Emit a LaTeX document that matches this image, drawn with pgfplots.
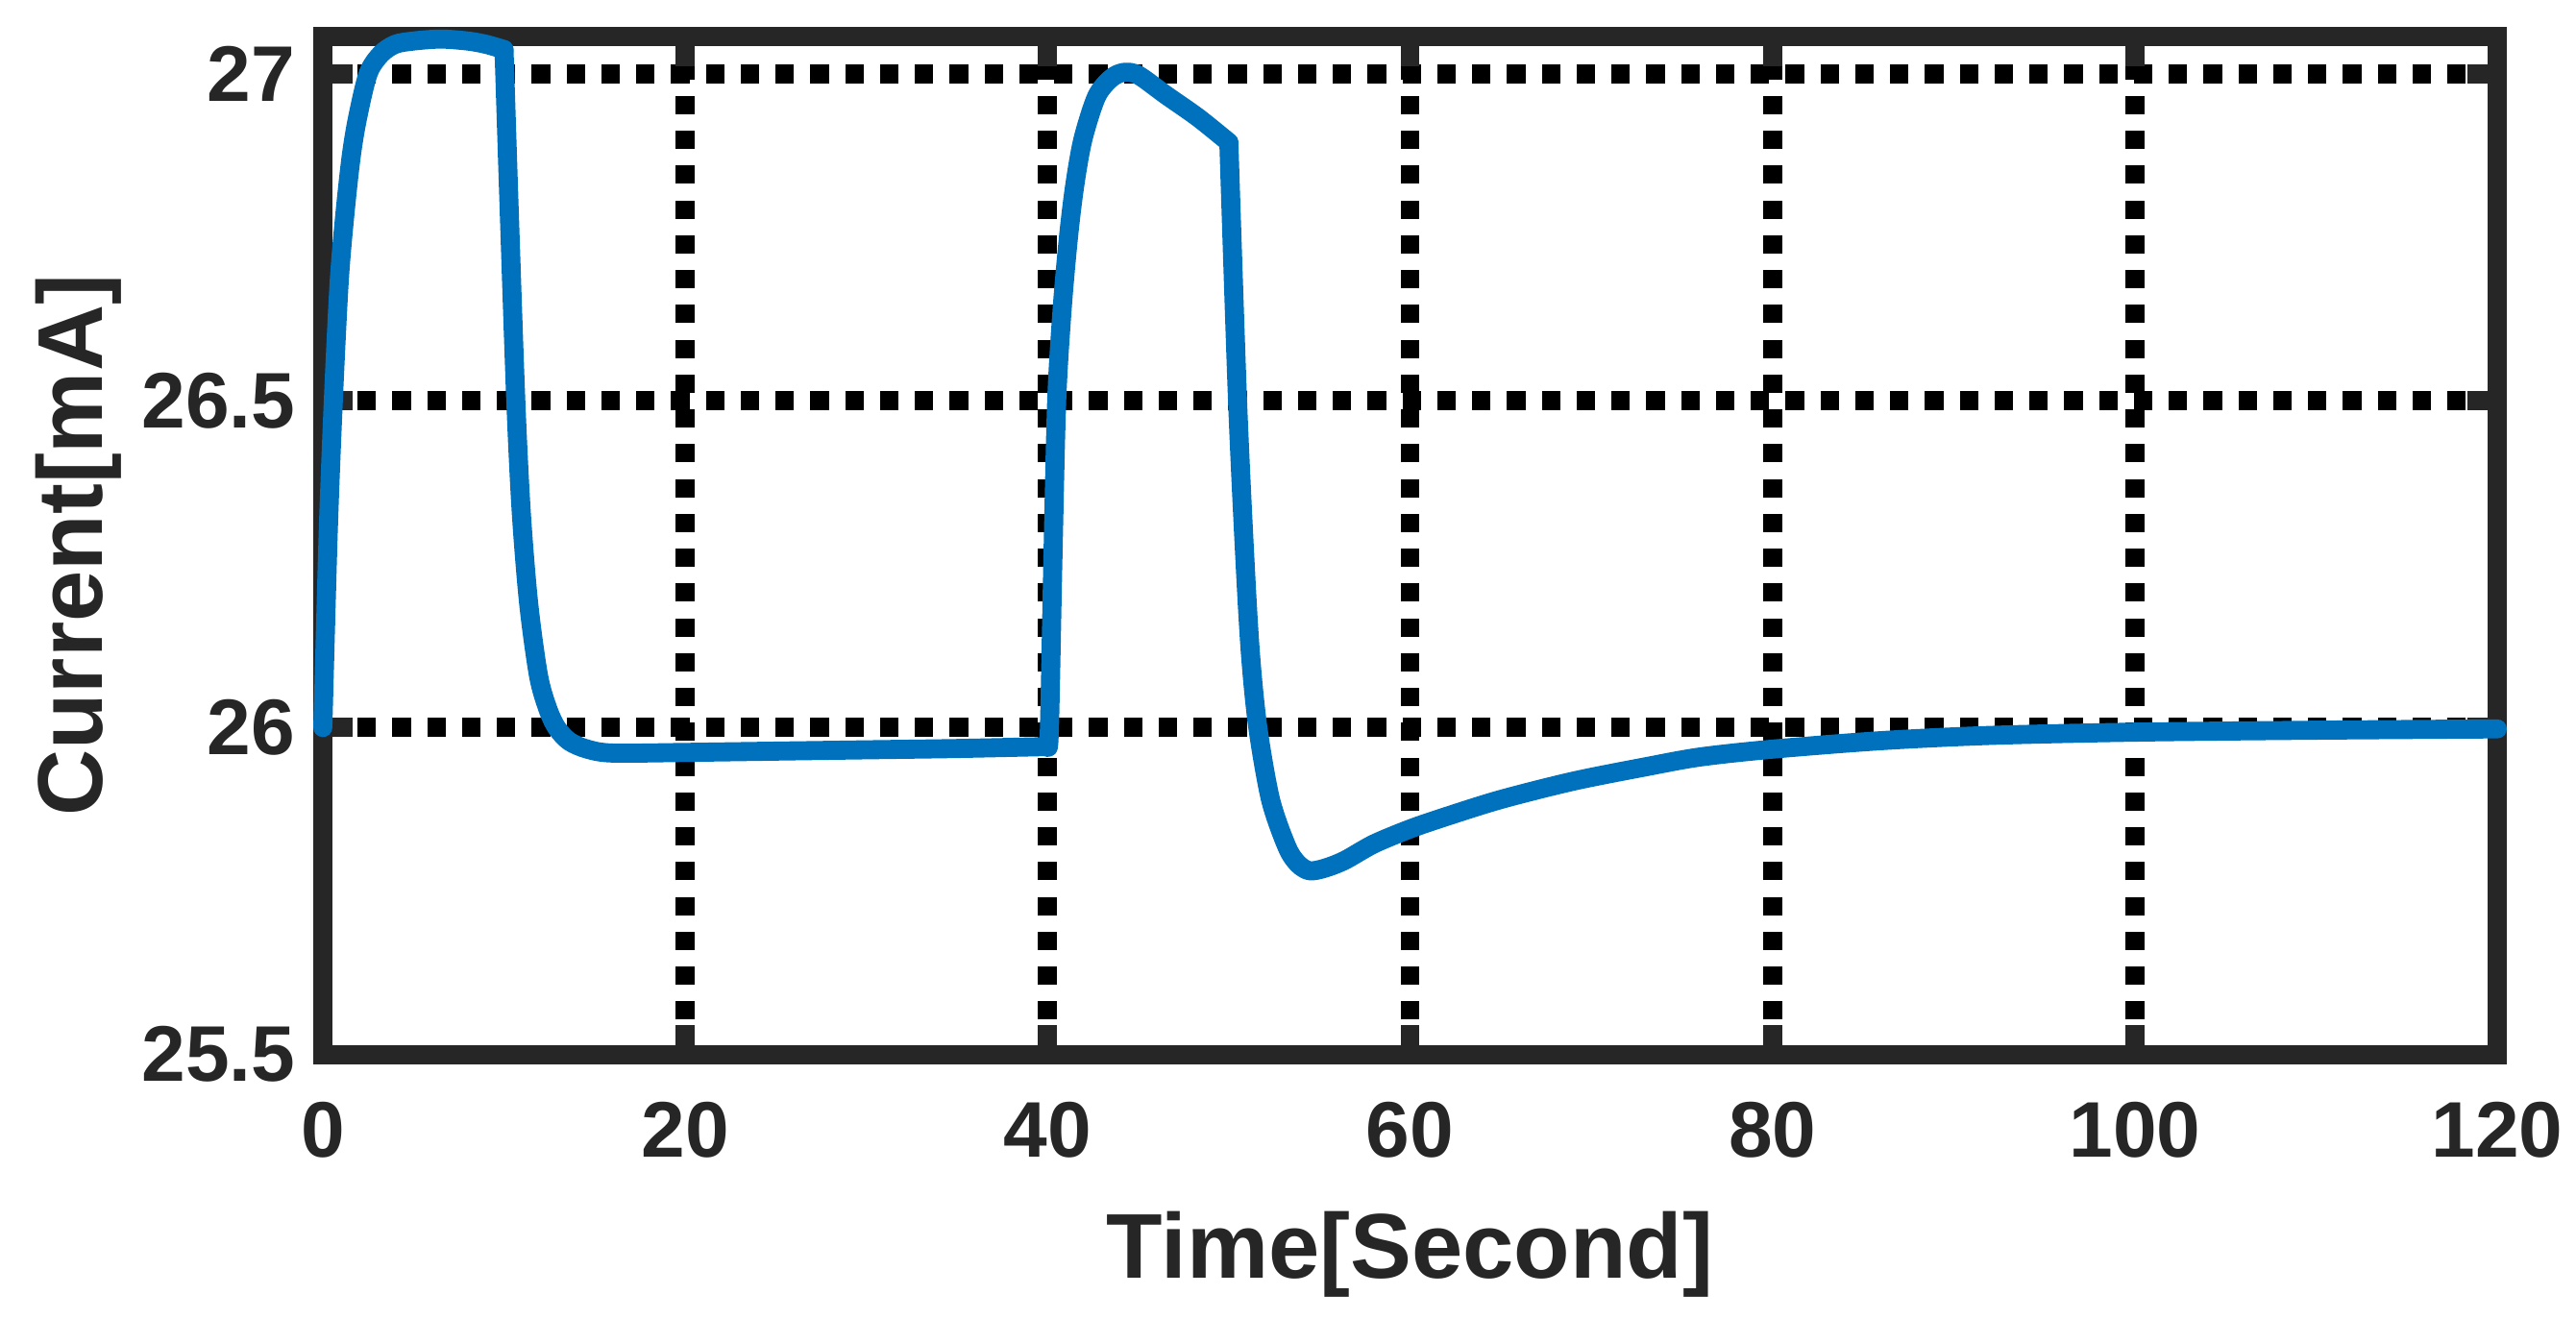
\documentclass[border=0pt]{standalone}
\usepackage{fontspec}
\setmainfont{Liberation Sans}
\usepackage{pgfplots}
\pgfplotsset{compat=1.18}
\definecolor{axgray}{HTML}{262626}
\definecolor{mblue}{HTML}{0072BD}
\tikzset{curve/.style={mblue, line width=2.9pt, line join=round, line cap=round, smooth, tension=0.5, mark=none}}
\begin{document}
\begin{tikzpicture}
\begin{axis}[
  set layers,
  scale only axis,
  width=330.9pt, height=154.95pt,
  xmin=0, xmax=120, ymin=25.5, ymax=27.057,
  xtick={0,20,40,60,80,100,120},
  ytick={25.5,26,26.5,27},
  tick pos=both,
  tick align=inside,
  major tick length=4.5pt,
  tick style={line width=2.9pt, color=axgray},
  axis line style={line width=2.9pt, color=axgray},
  grid=major,
  major grid style={black, line width=2.9pt, dash pattern=on 2.8pt off 2.5pt},
  /pgf/number format/assume math mode=true,
  every tick label/.append style={inner sep=0pt, text=axgray, font=\bfseries\fontsize{12}{12}\selectfont},
  xticklabel shift=7.1pt,
  yticklabel shift=4pt,
  every axis x label/.style={at={(axis description cs:0.5,-0.2194)}, anchor=base, inner sep=0pt, text=axgray, font=\bfseries\fontsize{14}{14}\selectfont},
  every axis y label/.style={at={(axis description cs:-0.1015,0.5)}, rotate=90, anchor=base, inner sep=0pt, text=axgray, font=\bfseries\fontsize{14}{14}\selectfont},
  xlabel={Time[Second]},
  ylabel={Current[mA]},
  clip=false,
]
\addplot[curve, on layer=axis foreground] coordinates {
(0,26.0) (0.3,26.3) (0.58,26.5) (0.9,26.68) (1.2,26.78) (1.55,26.87) (1.9,26.93) (2.5,27.0) (3.2,27.03) (4.0,27.045) (5,27.05) (6.5,27.053) (8,27.05) (9,27.045) (10,27.037)
};
\addplot[curve, on layer=axis foreground] coordinates {
(10,27.037) (10.3,26.78) (10.65,26.5) (10.95,26.33) (11.36,26.19) (11.9,26.08) (12.4,26.03) (12.9,26.0) (13.6,25.979) (14.6,25.967) (16,25.961) (20,25.962) (25,25.964) (30,25.966) (35,25.968) (40,25.971)
};
\addplot[curve, on layer=axis foreground] coordinates {
(40,25.971) (40.1,26.0) (40.3,26.27) (40.5,26.5) (40.8,26.64) (41.15,26.75) (41.5,26.83) (41.95,26.9) (42.7,26.965) (43.5,26.993) (44.2,27.002) (45,26.998) (46.5,26.968) (48.3,26.933) (50,26.895)
};
\addplot[curve, on layer=axis foreground] coordinates {
(50,26.895) (50.48,26.5) (50.9,26.25) (51.2,26.11) (51.6,26.0) (52.3,25.89) (53.2,25.818) (53.8,25.792) (54.45,25.781) (55.3,25.785) (56.4,25.797) (58,25.822) (60,25.845) (62,25.864) (65,25.89) (69,25.918) (73,25.94) (76,25.955) (80,25.967) (86,25.98) (92,25.988) (100,25.993) (110,25.996) (120,25.998)
};
\end{axis}
\path (-49.125pt,-40.25pt) rectangle (342.875pt,160.5pt);
\end{tikzpicture}
\end{document}
